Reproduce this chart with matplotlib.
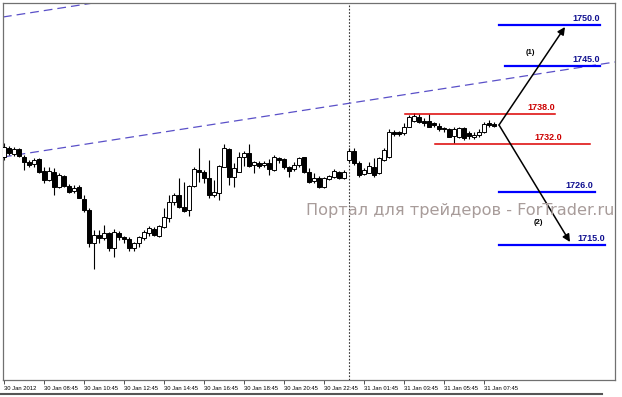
import numpy as np
import matplotlib.pyplot as plt
from matplotlib.lines import Line2D

# M15 candles, prices (open, high, low, close)
opens = [1729.4, 1731.2, 1730.0, 1731.0, 1729.4, 1728.4, 1728.0, 1729.0, 1726.6, 1724.8,
         1726.4, 1723.4, 1725.6, 1723.6, 1722.6, 1723.4, 1721.0, 1718.8, 1712.2, 1713.8,
         1713.2, 1714.2, 1711.2, 1714.2, 1713.4, 1713.0, 1711.2, 1712.2, 1713.2, 1714.2,
         1715.0, 1713.6, 1715.4, 1717.2, 1720.4, 1721.8, 1719.4, 1718.8, 1723.6, 1726.8,
         1726.4, 1725.2, 1721.8, 1722.2, 1727.4, 1731.0, 1725.4, 1726.4, 1729.4, 1730.2,
         1727.8, 1728.2, 1727.8, 1728.2, 1726.8, 1729.2, 1729.0, 1727.4, 1727.0, 1727.8,
         1729.4, 1726.4, 1724.6, 1725.2, 1723.4, 1725.0, 1725.4, 1726.4, 1725.2, 1728.8,
         1730.6, 1728.2, 1726.0, 1726.2, 1727.4, 1726.2, 1728.8, 1729.4, 1734.4, 1734.4,
         1734.2, 1735.4, 1736.6, 1737.4, 1736.6, 1736.6, 1736.2, 1735.6, 1735.2, 1735.0,
         1733.6, 1733.4, 1735.2, 1734.2, 1733.4, 1733.8, 1734.4, 1736.2, 1736.0]
highs = [1732.2, 1731.6, 1731.4, 1731.2, 1729.8, 1728.8, 1729.2, 1729.2, 1727.4, 1727.4,
         1727.2, 1726.2, 1725.8, 1724.0, 1723.8, 1723.8, 1721.8, 1719.2, 1714.8, 1714.8,
         1715.8, 1714.4, 1715.0, 1714.6, 1713.6, 1713.4, 1712.4, 1713.6, 1714.8, 1715.6,
         1715.4, 1715.8, 1719.2, 1721.8, 1722.2, 1725.2, 1724.4, 1723.8, 1727.4, 1731.2,
         1726.8, 1728.8, 1724.8, 1727.8, 1732.0, 1731.2, 1728.2, 1730.4, 1730.6, 1732.0,
         1728.6, 1728.6, 1728.6, 1729.0, 1729.8, 1729.4, 1729.2, 1727.6, 1728.4, 1729.4,
         1729.4, 1727.2, 1726.2, 1725.6, 1725.4, 1725.8, 1727.0, 1726.6, 1726.8, 1731.2,
         1731.2, 1728.6, 1727.2, 1728.4, 1729.2, 1729.4, 1731.2, 1735.0, 1734.8, 1734.6,
         1736.2, 1737.8, 1738.2, 1738.0, 1737.2, 1738.0, 1736.4, 1736.2, 1735.4, 1735.2,
         1735.4, 1735.4, 1735.4, 1734.6, 1734.4, 1735.0, 1736.4, 1736.8, 1736.4]
lows = [1728.8, 1729.8, 1729.6, 1729.4, 1726.8, 1727.4, 1727.4, 1726.2, 1724.2, 1724.6,
        1721.8, 1723.2, 1723.4, 1722.2, 1722.2, 1721.2, 1718.4, 1711.4, 1707.0, 1712.2,
        1712.8, 1710.6, 1709.4, 1712.8, 1712.2, 1710.6, 1710.6, 1711.4, 1712.8, 1713.6,
        1713.6, 1713.4, 1715.2, 1716.4, 1719.8, 1719.2, 1718.4, 1717.6, 1723.4, 1724.4,
        1724.2, 1721.2, 1721.4, 1720.8, 1727.4, 1723.8, 1723.4, 1726.4, 1727.6, 1727.4,
        1726.2, 1727.2, 1727.4, 1725.8, 1726.6, 1728.2, 1727.0, 1725.4, 1726.6, 1727.4,
        1726.2, 1724.2, 1724.2, 1723.2, 1723.2, 1724.8, 1725.2, 1725.0, 1725.0, 1728.4,
        1727.8, 1725.4, 1725.8, 1726.2, 1725.4, 1726.0, 1728.6, 1729.2, 1733.6, 1733.6,
        1733.8, 1735.4, 1736.4, 1736.2, 1735.6, 1735.4, 1735.4, 1734.6, 1734.4, 1733.4,
        1732.2, 1733.2, 1732.8, 1733.0, 1733.0, 1733.4, 1734.2, 1735.4, 1735.4]
closes = [1731.4, 1730.2, 1731.0, 1729.6, 1728.4, 1727.8, 1728.8, 1726.4, 1724.8, 1726.6,
          1723.4, 1725.8, 1723.6, 1722.4, 1723.2, 1721.2, 1718.8, 1712.2, 1713.8, 1713.2,
          1714.2, 1711.2, 1714.4, 1713.4, 1713.0, 1711.2, 1712.2, 1713.4, 1714.4, 1715.2,
          1713.8, 1715.6, 1717.4, 1720.4, 1721.8, 1719.4, 1718.6, 1723.6, 1727.0, 1726.4,
          1725.2, 1721.8, 1722.4, 1727.6, 1731.2, 1725.4, 1727.2, 1729.4, 1730.2, 1727.6,
          1728.4, 1727.6, 1728.2, 1727.0, 1729.4, 1728.8, 1727.4, 1726.6, 1727.8, 1729.2,
          1726.4, 1724.4, 1725.2, 1723.4, 1725.2, 1725.6, 1726.6, 1725.2, 1726.4, 1730.6,
          1728.2, 1725.8, 1726.8, 1727.6, 1725.8, 1729.2, 1730.8, 1734.4, 1734.0, 1734.0,
          1735.4, 1737.4, 1737.6, 1736.4, 1736.2, 1735.4, 1735.8, 1735.0, 1735.0, 1733.4,
          1735.0, 1735.2, 1733.2, 1733.6, 1733.8, 1734.4, 1736.0, 1735.8, 1735.6]

tick_bars = [0, 8, 16, 24, 32, 40, 48, 56, 64, 72, 80, 88, 96]
tick_labels = ['30 Jan 2012', '30 Jan 08:45', '30 Jan 10:45', '30 Jan 12:45',
               '30 Jan 14:45', '30 Jan 16:45', '30 Jan 18:45', '30 Jan 20:45',
               '30 Jan 22:45', '31 Jan 01:45', '31 Jan 03:45', '31 Jan 05:45',
               '31 Jan 07:45']
day_sep_bar = 69

# target levels: label text, drawn height, line start / end bar
level_labels = ['1750.0', '1745.0', '1738.0', '1732.0', '1726.0', '1715.0']
level_y = [1755.8, 1747.6, 1738.0, 1732.0, 1722.4, 1711.8]
level_x0 = [99.0, 100.2, 80.2, 86.2, 99.0, 99.0]
level_x1 = [119.2, 119.2, 110.2, 117.2, 118.2, 120.2]
level_lx = [119.2, 119.2, 110.2, 111.6, 117.8, 120.2]
level_colors = ['blue', 'blue', 'red', 'red', 'blue', 'blue']

# channel lines (bar, price)
trend_x = [-0.2, 122.2]
trend_lo = [1729.4, 1748.4]
trend_hi = [1757.4, 1776.4]

arrow_start = (99.0, 1735.8)
arrow_ends = [(112.2, 1755.4), (113.2, 1712.4)]
arrow_tags = ['(1)', '(2)']
tag_pos = [(105.2, 1750.4), (106.8, 1716.4)]

fig = plt.figure(figsize=(6.22, 3.97), dpi=100)
ax = fig.add_axes([3 / 622, 17 / 397, 612 / 622, 377 / 397])

o = np.array(opens)
h = np.array(highs)
l = np.array(lows)
c = np.array(closes)
x = np.arange(len(o))
up = c >= o

ax.vlines(x, l, h, color='black', lw=0.8, zorder=2)
bottom = np.minimum(o, c)
height = np.maximum(np.abs(c - o), 0.2)
ax.bar(x[up], height[up], bottom=bottom[up], width=0.62, facecolor='white',
       edgecolor='black', lw=0.7, zorder=3)
ax.bar(x[~up], height[~up], bottom=bottom[~up], width=0.62, facecolor='black',
       edgecolor='black', lw=0.7, zorder=3)

ax.axvline(day_sep_bar, color='#333333', ls=(0, (1.5, 1.5)), lw=0.8, zorder=1)

ax.plot(trend_x, trend_lo, color='#5a50c8', ls=(0, (7, 4)), lw=0.9, zorder=1)
ax.plot(trend_x, trend_hi, color='#5a50c8', ls=(0, (7, 4)), lw=0.9, zorder=1)

for lab, y, x0, x1, lx, col in zip(level_labels, level_y, level_x0, level_x1,
                                   level_lx, level_colors):
    lc = '#0000ff' if col == 'blue' else '#dd0000'
    tc = '#101090' if col == 'blue' else '#cc0000'
    ax.plot([x0, x1], [y, y], color=lc, lw=1.6 if col == 'blue' else 1.1, zorder=4)
    ax.text(lx, y + 0.4, lab, color=tc, fontsize=6.5, fontweight='bold',
            family='Liberation Sans', ha='right', va='bottom', zorder=5)

for end, tag, tp in zip(arrow_ends, arrow_tags, tag_pos):
    ax.annotate('', xy=end, xytext=arrow_start,
                arrowprops=dict(arrowstyle='-|>', color='black', lw=1.1,
                                mutation_scale=11, shrinkA=0, shrinkB=0), zorder=6)
    ax.text(tp[0], tp[1], tag, fontsize=5.5, fontweight='bold', ha='center',
            va='center', family='Liberation Sans')

fig.text(306 / 622, 1 - 210 / 397, 'Портал для трейдеров - ForTrader.ru',
         color='#a89c9a', fontsize=11.6, ha='left', va='center', family='DejaVu Sans')

ax.set_xlim(-0.2, 122.2)
ax.set_ylim(1684.8, 1760.2)
ax.set_yticks([])
ax.set_xticks(tick_bars)
ax.set_xticklabels(tick_labels, fontsize=4.2, family='Liberation Sans', ha='left')
ax.tick_params(axis='x', length=3, width=0.6, pad=1.5, color='#333333')
for s in ax.spines.values():
    s.set_color('#707070')
    s.set_linewidth(0.9)

fig.add_artist(Line2D([0, 602 / 622], [1 - 394 / 397, 1 - 394 / 397],
                      color='#555555', lw=1.5))

fig.savefig('out.png', dpi=100)
